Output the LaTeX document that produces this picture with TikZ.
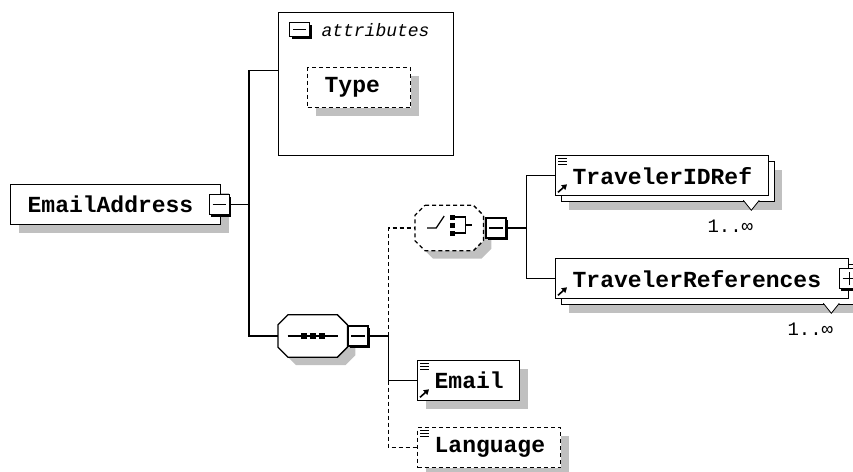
\documentclass[tikz,border=0pt]{standalone}
\usepackage{fontspec}
\usepackage{xcolor}
\usepackage{tikz}
\usetikzlibrary{arrows.meta,positioning}
\newfontfamily\xsmono{Liberation Mono}
\definecolor{xsInk}{HTML}{000000}
\definecolor{xsShade}{HTML}{C0C0C0}
\tikzset{
  elbase/.style={rectangle,draw=xsInk,line width=1.3pt,fill=white,
    minimum height=40pt,inner xsep=17pt,inner ysep=0pt,
    align=left,anchor=north west,
    font=\xsmono\bfseries\fontsize{23}{26}\selectfont},
  ebox/.style={elbase,
    preaction={draw=none,fill=xsShade,transform canvas={shift={(8pt,-8pt)}}}},
  abox/.style={ebox,dash pattern=on 4pt off 3pt},
  mbox/.style={elbase,
    preaction={draw=none,fill=xsShade,transform canvas={shift={(13pt,-14pt)}}},
    preaction={draw=xsInk,fill=white,transform canvas={shift={(6pt,-6pt)}}}},
  grpbox/.style={rectangle,minimum width=69pt,minimum height=42pt,inner sep=0pt},
  grpshade/.style={draw=none,fill=xsShade,transform canvas={shift={(8pt,-8pt)}}},
  attbox/.style={rectangle,draw=xsInk,line width=1.3pt,
    minimum width=175pt,minimum height=143pt,inner sep=0pt,anchor=north west},
  attlbl/.style={inner sep=0pt,font=\xsmono\itshape\fontsize{18}{20}\selectfont},
  tog/.style={rectangle,draw=xsInk,line width=1.3pt,fill=white,
    minimum width=20pt,minimum height=20pt,inner sep=0pt,
    preaction={draw=none,fill=xsInk,transform canvas={shift={(2pt,-2pt)}}}},
  togline/.style={line width=1.2pt,draw=xsInk},
  occ/.style={inner sep=0pt,font=\xsmono\fontsize{19}{22}\selectfont},
  conn/.style={draw=xsInk,line width=1.3pt},
  connd/.style={conn,dash pattern=on 4pt off 3pt},
  refarr/.style={-{Triangle[length=5pt,width=6pt]},line width=1.6pt},
}
% octagon round a compositor node
\newcommand{\octo}[2]{%
  \draw[#2] ([xshift=10pt]#1.north west) -- ([xshift=-10pt]#1.north east)
    -- ([yshift=-10pt]#1.north east) -- ([yshift=10pt]#1.south east)
    -- ([xshift=-10pt]#1.south east) -- ([xshift=10pt]#1.south west)
    -- ([yshift=10pt]#1.south west) -- ([yshift=-10pt]#1.north west) -- cycle;}
\newcommand{\docmark}[1]{%
  \foreach \k in {0,3,6}
    \draw[line width=1pt] ([shift={(3,3+\k)}]#1.north west) -- ++(9,0);}
\newcommand{\refmark}[1]{%
  \draw[refarr] ([shift={(3,-4)}]#1.south west) -- ++(9,-8);}
\newcommand{\occurs}[2]{%
  \draw[line width=0.8pt,fill=white] ([shift={(-26,4)}]#1.south east)
    -- ++(8,10) -- ++(8,-10);
  \node[occ,anchor=east] (#2) at ([shift={(-16,30)}]#1.south east) {1..∞};}

\begin{document}
\begin{tikzpicture}[x=1pt,y=-1pt]
  \useasboundingbox (0,0) rectangle (853,471);

  % root element
  \node[ebox,text width=176pt] (emailaddr) at (10,184) {EmailAddress};
  \node[tog] (emailaddr-tog) at ([xshift=-2pt]emailaddr.east) {};
  \coordinate (rootbus) at ([xshift=19pt]emailaddr-tog.east);

  % attributes
  \node[attbox] (attrs) at (278,12) {};
  \node[tog,minimum height=14pt,anchor=north west] (attrs-tog)
    at ([shift={(11,10)}]attrs.north west) {};
  \node[attlbl,anchor=west,right=11pt of attrs-tog] (attrs-lbl) {attributes};
  \node[abox,text width=69pt] (type) at (307,67) {Type};

  % sequence + choice
  \node[grpbox,anchor=west] (seq) at (278,336) {};
  \octo{seq}{grpshade}
  \octo{seq}{conn,fill=white}
  \node[tog,anchor=west] (seq-tog) at (seq.east) {};
  \coordinate (seqbus) at ([xshift=20pt]seq-tog.east);
  \node[grpbox,minimum height=45pt,minimum width=68pt,anchor=west]
    (choice) at (415,228) {};
  \octo{choice}{grpshade}
  \octo{choice}{connd,fill=white}
  \node[tog,anchor=west] (choice-tog) at ([xshift=2pt]choice.east) {};
  \coordinate (choicebus) at ([xshift=20pt]choice-tog.east);

  % child elements
  \node[mbox,text width=179pt] (idref) at (555,155) {TravelerIDRef};
  \node[mbox,text width=259pt] (trefs) at (555,258) {TravelerReferences};
  \node[tog] (trefs-tog) at (trefs.east) {};
  \node[ebox,text width=68pt] (email) at (417,360) {Email};
  \node[abox,text width=109pt] (language) at (417,427) {Language};

  \draw[conn] (emailaddr-tog.east) -- (rootbus);
  \draw[conn] ([shift={(0,-14)}]attrs.west) -| (rootbus) |- (seq.west);
  \draw[conn] (seq-tog.east) -- (seqbus) |- (email.west);
  \draw[connd] (seqbus) |- (choice.west);
  \draw[connd] (email.west -| seqbus) |- (language.west);
  \draw[conn] (choice-tog.east) -- (choicebus) |- (idref.west);
  \draw[conn] (choicebus) |- (trefs.west);

  % toggles
  \foreach \t in {emailaddr-tog,attrs-tog,seq-tog,choice-tog,trefs-tog}
    \draw[togline] ([xshift=4pt]\t.west) -- ([xshift=-4pt]\t.east);
  \draw[togline] ([yshift=4pt]trefs-tog.south) -- ([yshift=-4pt]trefs-tog.north);

  % compositor glyphs
  \draw[conn] ([xshift=-25pt]seq.center) -- ([xshift=25pt]seq.center);
  \foreach \d in {-9,0,9}
    \fill ([shift={(\d-3,-3)}]seq.center) rectangle ++(6,6);
  \draw[togline] ([shift={(-22,0)}]choice.center) -- ++(9,0) -- ++(8,-12);
  \foreach \d in {-11,-3,5}
    \fill ([shift={(1,\d-2.5)}]choice.center) rectangle ++(5,5);
  \draw[togline] ([shift={(6,-11)}]choice.center) -| ++(10,16) -- ++(-10,0);
  \draw[togline] ([shift={(16,-3)}]choice.center) -- ++(7,0);

  % icons and occurrences
  \docmark{idref}
  \refmark{idref}
  \refmark{trefs}
  \docmark{email}
  \refmark{email}
  \docmark{language}
  \occurs{idref}{idref-occ}
  \occurs{trefs}{trefs-occ}
\end{tikzpicture}
\end{document}
